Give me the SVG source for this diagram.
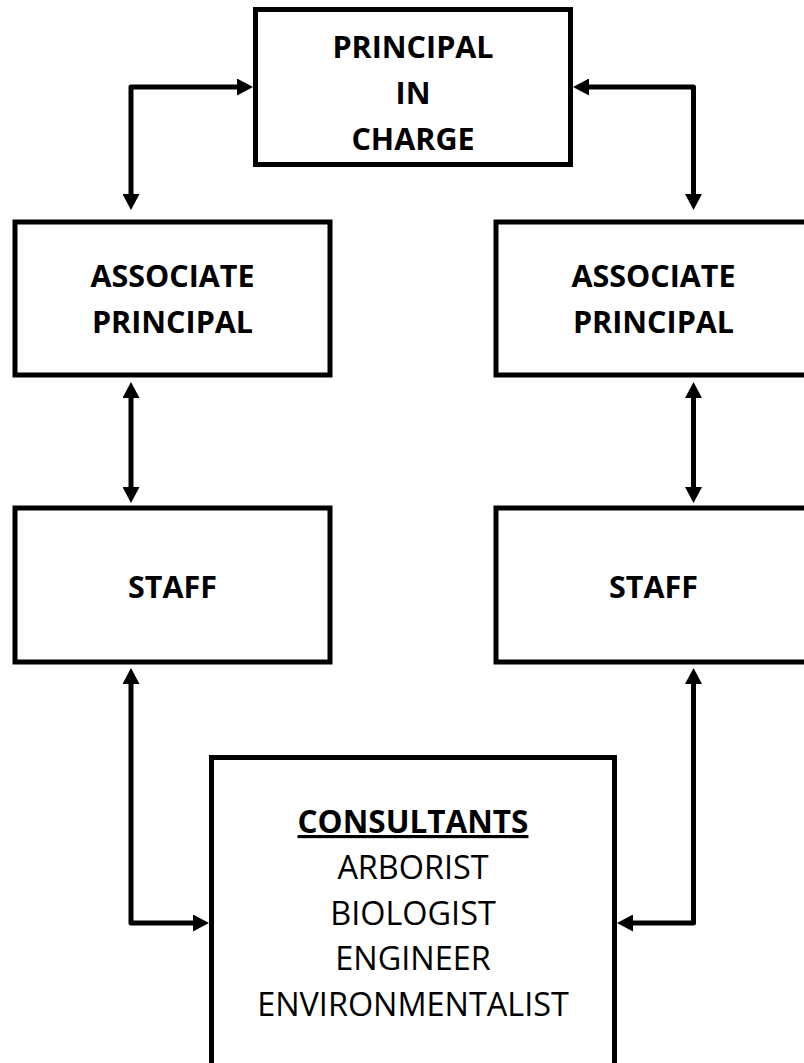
<svg xmlns="http://www.w3.org/2000/svg" width="804" height="1063" viewBox="0 0 804 1063">
  <style>
    .box { fill: #ffffff; stroke: #000000; stroke-width: 5; }
    .conn { fill: none; stroke: #000000; stroke-width: 5; stroke-linejoin: round; marker-start: url(#arrow); marker-end: url(#arrow); }
    .b { font-family: "Open Sans", "Liberation Sans", sans-serif; font-weight: bold; font-size: 30.5px; text-anchor: middle; fill: #000000; }
    .r { font-family: "Open Sans", "Liberation Sans", sans-serif; font-weight: normal; font-size: 32.4px; text-anchor: middle; fill: #000000; }
    .u { text-decoration: underline; font-size: 31.5px; }
  </style>
  <defs>
    <marker id="arrow" markerUnits="userSpaceOnUse" markerWidth="16" markerHeight="17" viewBox="0 0 16 17" refX="0" refY="8.5" orient="auto-start-reverse">
      <path d="M0,0 L16,8.5 L0,17 Z" fill="#000000"/>
    </marker>
  </defs>
  <rect x="0" y="0" width="804" height="1063" fill="#ffffff"/>

  <g id="connectors">
    <path class="conn" d="M131,194 L131,87 L237,87"/>
    <path class="conn" d="M589,87 L693.5,87 L693.5,194"/>
    <path class="conn" d="M131,398 L131,487"/>
    <path class="conn" d="M693.5,398 L693.5,487"/>
    <path class="conn" d="M131,684 L131,923 L193,923"/>
    <path class="conn" d="M693.5,684 L693.5,923 L633,923"/>
  </g>

  <g id="principal-in-charge">
    <rect class="box" x="255.5" y="9.5" width="315" height="155"/>
    <text class="b" x="413" y="58">PRINCIPAL</text>
    <text class="b" x="413" y="104">IN</text>
    <text class="b" x="413" y="150">CHARGE</text>
  </g>

  <g id="associate-principal-left">
    <rect class="box" x="15" y="222" width="315" height="153"/>
    <text class="b" x="172.5" y="287">ASSOCIATE</text>
    <text class="b" x="172.5" y="333">PRINCIPAL</text>
  </g>

  <g id="associate-principal-right">
    <rect class="box" x="496" y="222" width="315" height="153"/>
    <text class="b" x="653.5" y="287">ASSOCIATE</text>
    <text class="b" x="653.5" y="333">PRINCIPAL</text>
  </g>

  <g id="staff-left">
    <rect class="box" x="15" y="508" width="315" height="154"/>
    <text class="b" x="172.5" y="598">STAFF</text>
  </g>

  <g id="staff-right">
    <rect class="box" x="496" y="508" width="315" height="154"/>
    <text class="b" x="653.5" y="598">STAFF</text>
  </g>

  <g id="consultants">
    <rect class="box" x="211.5" y="757.5" width="403" height="320"/>
    <text class="b u" x="413" y="833">CONSULTANTS</text>
    <text class="r" x="413" y="879">ARBORIST</text>
    <text class="r" x="413" y="924.5">BIOLOGIST</text>
    <text class="r" x="413" y="970">ENGINEER</text>
    <text class="r" x="413" y="1016">ENVIRONMENTALIST</text>
  </g>
</svg>
